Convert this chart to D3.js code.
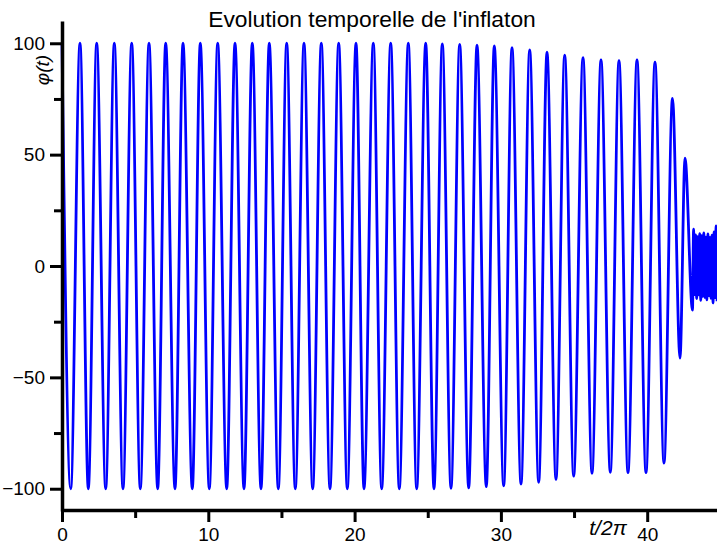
<!DOCTYPE html>
<html>
<head>
<meta charset="utf-8">
<script src="https://cdn.jsdelivr.net/npm/d3@7"></script>
<style>
  body { margin: 0; background: #fff; }
  svg { display: block; font-family: "Liberation Sans", Arial, sans-serif; }
  .axis path, .axis line { stroke: #000; }
  .axis text { fill: #000; font-size: 19px; }
</style>
</head>
<body>
<div id="chart"></div>
<script>
// tick values
var xTicks = [0, 10, 20, 30, 40];
var xMinorTicks = [5, 15, 25, 35];
var yTicks = [-100, -50, 0, 50, 100];
var yMinorTicks = [-75, -25, 25, 75];

// maxima of phi(t) (t in units of 2pi)
var peakT = [0, 1.23, 2.372, 3.575, 4.764, 5.947, 7.088, 8.271, 9.453, 10.643, 11.825, 13.007,
  14.169, 15.359, 16.541, 17.724, 18.913, 20.096, 21.278, 22.468, 23.671, 24.86, 25.995,
  27.184, 28.366, 29.549, 30.759, 31.969, 33.151, 34.361, 35.612, 36.842, 38.072, 39.303,
  40.533, 41.729, 42.584];
var peakPhi = [100, 100, 100, 100, 100, 100, 100, 100, 100, 100, 100, 100,
  100, 100, 100, 100, 100, 100, 100, 100, 100, 100, 99.7,
  99.5, 99.2, 98.8, 98, 97, 96, 94.7, 93.5, 92.5, 92.2, 92.5,
  91.5, 75.3, 48.4];

// minima of phi(t)
var troughT = [0.595, 1.798, 2.987, 4.169, 5.352, 6.541, 7.724, 8.906, 10.068, 11.258, 12.44,
  13.602, 14.785, 15.947, 17.136, 18.318, 19.501, 20.643, 21.852, 23.055, 24.245, 25.427,
  26.589, 27.799, 29.002, 30.191, 31.374, 32.584, 33.766, 34.976, 36.227, 37.478, 38.688,
  39.918, 41.148, 42.242, 43.096];
var troughPhi = [-100, -100, -100, -100, -100, -100, -100, -100, -100, -100, -100,
  -100, -100, -100, -100, -100, -100, -100, -100, -100, -100, -100,
  -99.8, -99.6, -99.1, -98.7, -97.9, -97.1, -95.8, -94.3, -93.1, -92.6, -92.8,
  -92.8, -88.5, -41.4, -19.8];

// fast small oscillations at the end
var tailT = [43.17, 43.24, 43.31, 43.38, 43.45, 43.52, 43.59, 43.66, 43.73, 43.80, 43.87, 43.94,
  44.01, 44.08, 44.15, 44.22, 44.29, 44.36, 44.43, 44.50, 44.57, 44.64, 44.71, 44.78];
var tailPhi = [16.5, -12.8, 14.0, -14.6, 13.2, -12.9, 14.5, -15.4, 13.6, -13.6, 14.9, -14.1,
  13.0, -15.2, 14.4, -13.3, 12.8, -14.5, 13.9, -16.6, 15.3, -14.2, 18.0, -15.8];

var width = 717, height = 545;

var data = [];
peakT.forEach(function(t, i){ data.push({t: t, phi: peakPhi[i]}); });
troughT.forEach(function(t, i){ data.push({t: t, phi: troughPhi[i]}); });
tailT.forEach(function(t, i){ data.push({t: t, phi: tailPhi[i]}); });
data.sort(function(a, b){ return a.t - b.t; });

var svg = d3.select("#chart").append("svg")
  .attr("width", width)
  .attr("height", height);

svg.append("rect").attr("width", width).attr("height", height).style("fill", "#fff");

var xScale = d3.scaleLinear()
  .domain([0, 45])
  .range([62, 62 + 45 * 14.63]);

var yScale = d3.scaleLinear()
  .domain([-110, 110])
  .range([511, 21]);

var line = d3.line()
  .x(function(d){ return xScale(d.t); })
  .y(function(d){ return yScale(d.phi); })
  .curve(d3.curveMonotoneX);

svg.append("path")
  .datum(data)
  .attr("d", line)
  .style("fill", "none")
  .style("stroke", "#0000ff")
  .style("stroke-width", 2.8)
  .style("stroke-linejoin", "round");

// minor ticks first, then the main axes on top
svg.append("g")
  .attr("class", "axis")
  .attr("transform", "translate(0,510)")
  .call(d3.axisBottom(xScale).tickValues(xMinorTicks).tickSize(8).tickSizeOuter(0).tickFormat(""))
  .call(function(g){ g.select(".domain").remove(); })
  .selectAll("line").style("stroke-width", 3);

svg.append("g")
  .attr("class", "axis")
  .attr("transform", "translate(62,0)")
  .call(d3.axisLeft(yScale).tickValues(yMinorTicks).tickSize(8).tickSizeOuter(0).tickFormat(""))
  .call(function(g){ g.select(".domain").remove(); })
  .selectAll("line").style("stroke-width", 3);

var xAxis = svg.append("g")
  .attr("class", "axis")
  .attr("transform", "translate(0,510)")
  .call(d3.axisBottom(xScale).tickValues(xTicks).tickSize(12).tickSizeOuter(0).tickPadding(6));
xAxis.select(".domain").style("stroke-width", 3.5);
xAxis.selectAll("line").style("stroke-width", 3);

var yAxis = svg.append("g")
  .attr("class", "axis")
  .attr("transform", "translate(62,0)")
  .call(d3.axisLeft(yScale).tickValues(yTicks).tickSize(12).tickSizeOuter(0).tickPadding(5));
yAxis.select(".domain").style("stroke-width", 3.5);
yAxis.selectAll("line").style("stroke-width", 3);

// title and axis labels
svg.append("text")
  .attr("x", 372)
  .attr("y", 27)
  .attr("text-anchor", "middle")
  .style("font-size", "22.8px")
  .text("Evolution temporelle de l'inflaton");

svg.append("text")
  .attr("transform", "translate(49,70) rotate(-90)")
  .attr("text-anchor", "middle")
  .style("font-size", "19px")
  .style("font-style", "italic")
  .text("\u03c6(t)");

svg.append("text")
  .attr("x", 608)
  .attr("y", 535)
  .attr("text-anchor", "middle")
  .style("font-size", "21px")
  .style("font-style", "italic")
  .text("t/2\u03c0");
</script>
</body>
</html>
